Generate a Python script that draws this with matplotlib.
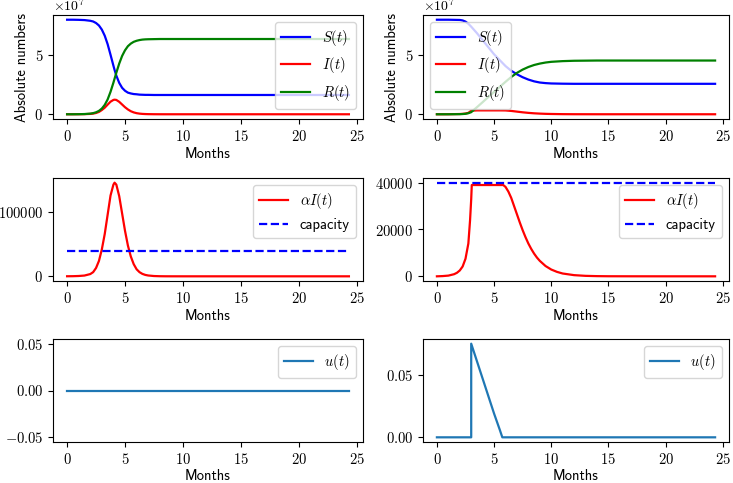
import numpy as np
import matplotlib
matplotlib.use("Agg")
import matplotlib.pyplot as plt
from matplotlib.ticker import ScalarFormatter

plt.rcParams['font.family'] = ['cmss10', 'DejaVu Sans']
plt.rcParams['mathtext.fontset'] = 'cm'
plt.rcParams['axes.unicode_minus'] = False
plt.rcParams['font.size'] = 10.5

T_END = 24.33

# ---------------- left column (no control) ----------------
t_left = [0, 0.5, 1, 1.5, 2, 2.25, 2.5, 2.75, 3, 3.25, 3.5, 3.75, 4, 4.1, 4.25, 4.5,
          4.75, 5, 5.25, 5.5, 5.75, 6, 6.25, 6.5, 6.75, 7, 7.5, 8, 8.5, 9, 10, 12, 15,
          20, T_END]
# values in units of 1e7
S_left = [8.04, 8.04, 8.03, 8.01, 7.95, 7.89, 7.76, 7.55, 7.20, 6.68, 5.96, 5.06, 4.13,
          3.77, 3.29, 2.67, 2.25, 2.00, 1.84, 1.77, 1.72, 1.70, 1.67, 1.66, 1.65, 1.65,
          1.64, 1.64, 1.64, 1.64, 1.64, 1.64, 1.64, 1.64, 1.64]
I_left = [0.001, 0.002, 0.004, 0.010, 0.030, 0.055, 0.11, 0.20, 0.36, 0.56, 0.82, 1.07,
          1.22, 1.24, 1.22, 1.06, 0.83, 0.60, 0.41, 0.26, 0.16, 0.094, 0.055, 0.032,
          0.019, 0.011, 0.004, 0.001, 0, 0, 0, 0, 0, 0, 0]
R_left = [0, 0, 0.006, 0.019, 0.056, 0.097, 0.168, 0.288, 0.485, 0.797, 1.26, 1.91, 2.69,
          3.03, 3.53, 4.31, 4.96, 5.44, 5.79, 6.01, 6.16, 6.25, 6.31, 6.35, 6.37, 6.38,
          6.39, 6.40, 6.40, 6.40, 6.40, 6.40, 6.40, 6.40, 6.40]
aI_left = [100, 200, 500, 1200, 3500, 6500, 13000, 24000, 42000, 66000, 96000, 126000,
           143000, 146000, 143000, 125000, 98000, 71000, 48000, 31000, 19000, 11000,
           6500, 3800, 2200, 1300, 450, 150, 50, 20, 0, 0, 0, 0, 0]
t_u_left = [0, T_END]
u_left = [0, 0]

# ---------------- right column (with control) ----------------
t_right = [0, 1, 2, 2.25, 2.5, 2.75, 3, 3.5, 4, 4.5, 5, 5.5, 6, 6.5, 7, 7.5, 8, 8.5,
           9, 9.5, 10, 11, 12, 14, T_END]
S_right = [8.04, 8.04, 8.02, 7.98, 7.88, 7.70, 7.45, 6.90, 6.30, 5.70, 5.10, 4.60, 4.10,
           3.70, 3.40, 3.15, 2.95, 2.80, 2.70, 2.65, 2.62, 2.60, 2.59, 2.59, 2.59]
I_right = [0, 0.003, 0.021, 0.036, 0.064, 0.12, 0.30, 0.33, 0.33, 0.33, 0.33, 0.33, 0.325,
           0.285, 0.225, 0.167, 0.119, 0.082, 0.056, 0.037, 0.025, 0.010, 0.004, 0.001, 0]
R_right = [0, 0, 0.01, 0.02, 0.04, 0.09, 0.18, 0.60, 1.03, 1.47, 1.90, 2.33, 2.76, 3.17,
           3.52, 3.80, 4.02, 4.19, 4.31, 4.40, 4.46, 4.52, 4.55, 4.57, 4.57]

t_ai_right = [0, 0.5, 1, 1.5, 1.75, 2, 2.25, 2.5, 2.75, 2.9, 3.0, 3.05, 3.5, 4, 5, 5.5,
              5.8, 6, 6.25, 6.5, 6.75, 7, 7.25, 7.5, 7.75, 8, 8.25, 8.5, 8.75, 9, 9.5,
              10, 10.5, 11, 12, 13, 14, 15, 17, 20, T_END]
aI_right = [0, 100, 300, 900, 1500, 2500, 4200, 7500, 14000, 24000, 33000, 39000, 39000,
            39000, 39000, 39000, 39000, 38200, 36200, 33500, 30000, 26500, 23000, 19700,
            16700, 14000, 11700, 9700, 8000, 6600, 4400, 2900, 1900, 1200, 500, 200, 80,
            30, 10, 0, 0]
capacity = 40000

t_u_right = [0, 3.0, 3.0, 3.5, 4, 4.5, 5, 5.5, 5.72, T_END]
u_right = [0, 0, 0.075, 0.061, 0.047, 0.033, 0.019, 0.006, 0, 0]

SCALE = 1e7


class CMFormatter(ScalarFormatter):
    def __init__(self):
        super().__init__(useMathText=True)

    def __call__(self, x, pos=None):
        return super().__call__(x, pos).replace(r'\mathdefault', r'\mathrm')

    def get_offset(self):
        return super().get_offset().replace(r'\mathdefault', r'\mathrm')


W, H = 733, 483
fig = plt.figure(figsize=(W / 100, H / 100), dpi=100)

cols = [(53 / W, 310 / W), (423 / W, 306 / W)]
rows = [(1 - 119 / H, 104 / H), (1 - 281 / H, 103 / H), (1 - 442 / H, 103 / H)]

axes = [[fig.add_axes([c[0], r[0], c[1], r[1]]) for c in cols] for r in rows]

lw = 1.6
# top row
for ax, t, S, I, R, loc in [(axes[0][0], t_left, S_left, I_left, R_left, 'upper right'),
                            (axes[0][1], t_right, S_right, I_right, R_right, 'upper left')]:
    ax.plot(t, np.array(S) * SCALE, color='b', lw=lw, label=r'$S(t)$')
    ax.plot(t, np.array(I) * SCALE, color='r', lw=lw, label=r'$I(t)$')
    ax.plot(t, np.array(R) * SCALE, color='g', lw=lw, label=r'$R(t)$')
    ax.set_ylabel('Absolute numbers')
    ax.legend(loc=loc)

# middle row
axes[1][0].plot(t_left, aI_left, color='r', lw=lw, label=r'$\alpha I(t)$')
axes[1][0].plot([0, T_END], [capacity, capacity], 'b--', lw=lw, label='capacity')
axes[1][0].legend(loc='upper right')
axes[1][1].plot(t_ai_right, aI_right, color='r', lw=lw, label=r'$\alpha I(t)$')
axes[1][1].plot([0, T_END], [capacity, capacity], 'b--', lw=lw, label='capacity')
axes[1][1].legend(loc='upper right')

# bottom row
axes[2][0].plot(t_u_left, u_left, color='C0', lw=lw, label=r'$u(t)$')
axes[2][0].legend(loc='upper right')
axes[2][1].plot(t_u_right, u_right, color='C0', lw=lw, label=r'$u(t)$')
axes[2][1].legend(loc='upper right')

for row in axes:
    for ax in row:
        ax.set_xlabel('Months', labelpad=2)
        ax.set_xticks([0, 5, 10, 15, 20, 25])
        ax.xaxis.set_major_formatter(CMFormatter())
        ax.yaxis.set_major_formatter(CMFormatter())
        ax.yaxis.get_offset_text().set_fontsize(10)

fig.savefig('out.png', dpi=100)
